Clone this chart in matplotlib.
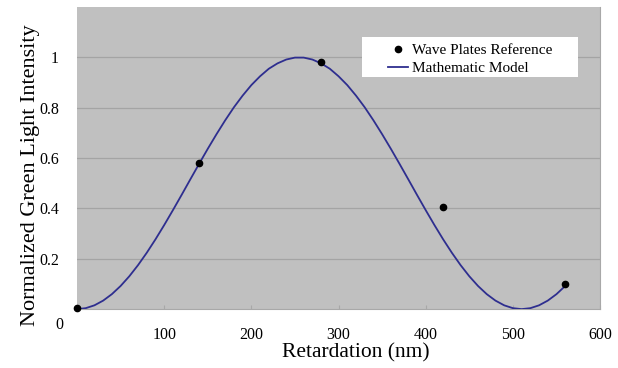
import matplotlib.pyplot as plt
from matplotlib.patches import Rectangle

plt.rcParams["font.family"] = ["Liberation Serif", "DejaVu Serif"]

# measured points (wave plates)
plate_retard = [0, 140, 280, 420, 560]
plate_intensity = [0.003, 0.579, 0.98, 0.404, 0.099]

# model curve, every 10 nm
model_retard = list(range(0, 570, 10))
model_intensity = [
    0.0, 0.0038, 0.0151, 0.0338, 0.0595, 0.0919, 0.1305, 0.1747, 0.2238, 0.2771,
    0.3338, 0.3930, 0.4537, 0.5155, 0.5767, 0.6368, 0.6947, 0.75, 0.8017, 0.8481,
    0.8898, 0.9249, 0.9547, 0.9761, 0.9913, 0.9990, 0.9990, 0.9913, 0.9761, 0.9547,
    0.9249, 0.8898, 0.8481, 0.8017, 0.75, 0.6947, 0.6368, 0.5767, 0.5155, 0.4537,
    0.3930, 0.3338, 0.2771, 0.2238, 0.1747, 0.1305, 0.0919, 0.0595, 0.0338, 0.0151,
    0.0038, 0.0, 0.0038, 0.0151, 0.0338, 0.0595, 0.0919,
]

x_ticks = [100, 200, 300, 400, 500, 600]
y_ticks = [0.2, 0.4, 0.6, 0.8, 1.0]
y_labels = ["0.2", "0.4", "0.6", "0.8", "1"]

fig = plt.figure(figsize=(6.18, 3.68), dpi=100)
ax = fig.add_axes([0.1246, 0.160, 0.8464, 0.821])
ax.set_facecolor("#c0c0c0")

ax.plot(model_retard, model_intensity, color="#2e2e8f", lw=1.3,
        label="Mathematic Model", zorder=3)
ax.plot(plate_retard, plate_intensity, "o", color="black", ms=4.5,
        label="Wave Plates Reference", zorder=4, clip_on=False)

ax.set_xlim(0, 600)
ax.set_ylim(0, 1.2)
ax.set_xticks(x_ticks)
ax.set_yticks(y_ticks)
ax.set_yticklabels(y_labels)
ax.grid(axis="y", color="#a4a4a4", lw=0.9)
ax.set_axisbelow(True)
ax.tick_params(axis="x", direction="in", length=3, color="#a8a8a8",
               labelsize=11.5, pad=13)
ax.tick_params(axis="y", length=0, labelsize=11.5, pad=13)
for s in ax.spines.values():
    s.set_color("#a8a8a8")
    s.set_linewidth(0.8)
ax.spines["left"].set_visible(False)
ax.spines["top"].set_visible(False)

# the lone zero label sits below the corner
ax.text(-0.0265, -0.054, "0", transform=ax.transAxes, ha="right", va="center",
        fontsize=11.5)

fig.text(356 / 618, 1 - 353 / 368, "Retardation (nm)", fontsize=15.5,
         ha="center", va="center")
fig.text(31 / 618, 1 - 175 / 368, "Normalized Green Light Intensity",
         fontsize=16, rotation=90, ha="center", va="center")

# white legend panel
ax.add_patch(Rectangle((0.545, 0.768), 0.413, 0.133, transform=ax.transAxes,
                       facecolor="white", edgecolor="none", zorder=5))
handles, labels = ax.get_legend_handles_labels()
leg = ax.legend(handles[::-1], labels[::-1], loc="upper left",
                bbox_to_anchor=(0.580, 0.905), fontsize=11, frameon=False,
                handlelength=1.3, handletextpad=0.3, borderpad=0,
                labelspacing=0.3)
leg.set_zorder(6)

fig.savefig("out.png", dpi=100)
